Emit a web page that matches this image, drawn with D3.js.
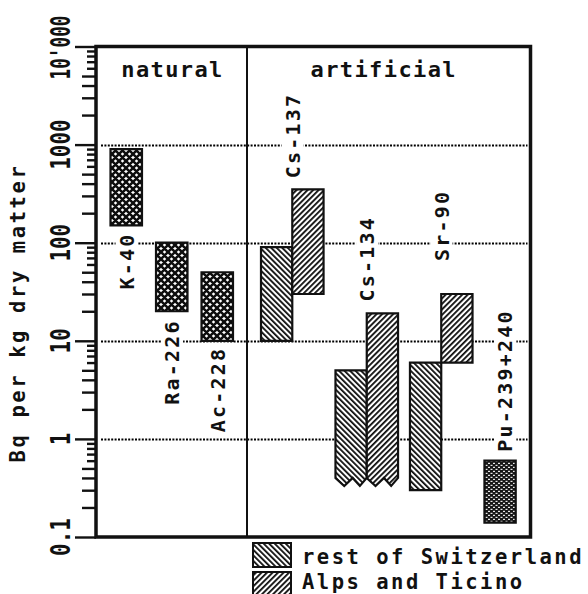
<!DOCTYPE html>
<html>
<head>
<meta charset="utf-8">
<script src="https://cdn.jsdelivr.net/npm/d3@7"></script>
<style>
  html, body { margin: 0; padding: 0; background: #fff; }
  svg { display: block; }
  text { font-family: "DejaVu Sans Mono", "Liberation Mono", monospace; font-weight: bold; fill: #111; }
</style>
</head>
<body>
<svg id="chart" width="588" height="594"></svg>
<script>
// Activity ranges in grass, Bq per kg dry matter (low, high)
const naturalNuclides = ["K-40", "Ra-226", "Ac-228"];
const naturalLow  = [150, 20, 10];
const naturalHigh = [900, 100, 50];

const artificialNuclides = ["Cs-137", "Cs-134", "Sr-90", "Pu-239+240"];
const restLow   = [10, 0.4, 0.3, null];
const restHigh  = [90, 5, 6, null];
const alpsLow   = [30, 0.4, 6, null];
const alpsHigh  = [350, 19, 30, null];
const wholeLow  = [null, null, null, 0.14];
const wholeHigh = [null, null, null, 0.6];
// lower limit only known as an upper bound: drawn open with a jagged bottom
const openBelow = [false, true, false, false];

const groupNames = ["natural", "artificial"];
const yTickValues = [0.1, 1, 10, 100, 1000, 10000];
const yTickLabels = ["0.1", "1", "10", "100", "1000", "10'000"];
const gridValues = [1, 10, 100, 1000];
const legendLabels = ["rest of Switzerland", "Alps and Ticino"];
const yTitle = "Bq per kg dry matter";

// ---- layout ----
const svg = d3.select("#chart");
const plot = { left: 96, right: 530.5, top: 46.5, bottom: 537, divider: 247 };

const y = d3.scaleLog().domain([0.1, 10000]).range([plot.bottom, plot.top]);
const xNat = d3.scaleBand().domain(naturalNuclides).range([110.5, 233]).paddingInner(0.308).paddingOuter(0);
const xArt = d3.scaleBand().domain(artificialNuclides).range([261, 547]).paddingInner(0.16).paddingOuter(0);
const subW = xArt.bandwidth() / 2;

// ---- fill patterns ----
const defs = svg.append("defs");
function stripes(id, angle) {
  const p = defs.append("pattern").attr("id", id).attr("patternUnits", "userSpaceOnUse")
    .attr("width", 3.9).attr("height", 3.9).attr("patternTransform", `rotate(${angle})`);
  p.append("rect").attr("width", 3.9).attr("height", 3.9).attr("fill", "#fff");
  p.append("rect").attr("x", 0).attr("width", 1.8).attr("height", 3.9).attr("fill", "#0d0d0d");
}
stripes("hatchRest", -45);   // \\\
stripes("hatchAlps", 45);    // ///

const cross = defs.append("pattern").attr("id", "crossNat").attr("patternUnits", "userSpaceOnUse")
  .attr("width", 7).attr("height", 7);
cross.append("rect").attr("width", 7).attr("height", 7).attr("fill", "#fff");
cross.append("path")
  .attr("d", "M-1,-1L8,8M8,-1L-1,8M-1,6L1,8M6,-1L8,1M-1,1L1,-1M6,8L8,6")
  .attr("stroke", "#0d0d0d").attr("stroke-width", 2.5).attr("fill", "none");

const fine = defs.append("pattern").attr("id", "finePu").attr("patternUnits", "userSpaceOnUse")
  .attr("width", 5).attr("height", 4);
fine.append("rect").attr("width", 5).attr("height", 4).attr("fill", "#161616");
fine.append("rect").attr("x", 0.5).attr("y", 0.8).attr("width", 2).attr("height", 1.1).attr("fill", "#fff");
fine.append("rect").attr("x", 3).attr("y", 2.8).attr("width", 2).attr("height", 1.1).attr("fill", "#fff");

// ---- grid lines ----
svg.append("g").selectAll("line").data(gridValues).join("line")
  .attr("x1", plot.left + 5).attr("x2", plot.right - 3)
  .attr("y1", d => Math.round(y(d)) + 0.5).attr("y2", d => Math.round(y(d)) + 0.5)
  .attr("stroke", "#000").attr("stroke-width", 1.8).attr("stroke-dasharray", "2,1.4");

// group divider
svg.append("line").attr("x1", plot.divider).attr("x2", plot.divider)
  .attr("y1", plot.top).attr("y2", plot.bottom).attr("stroke", "#111").attr("stroke-width", 2);

// ---- bars ----
function barPath(x0, w, yTop, yBot, jagged) {
  if (!jagged) return `M${x0},${yTop}H${x0 + w}V${yBot}H${x0}Z`;
  const d = 8;
  return `M${x0},${yTop}H${x0 + w}V${yBot}` +
    `L${x0 + w * 0.78},${yBot + d}L${x0 + w * 0.55},${yBot}` +
    `L${x0 + w * 0.28},${yBot + d}L${x0},${yBot}Z`;
}
const bars = svg.append("g").attr("stroke", "#111").attr("stroke-width", 2.2).attr("stroke-linejoin", "miter");

naturalNuclides.forEach((n, i) => {
  bars.append("path")
    .attr("d", barPath(xNat(n), xNat.bandwidth(), y(naturalHigh[i]), y(naturalLow[i]), false))
    .attr("fill", "url(#crossNat)");
});
artificialNuclides.forEach((n, i) => {
  const x0 = xArt(n);
  if (restHigh[i] != null) {
    bars.append("path")
      .attr("d", barPath(x0, subW, y(restHigh[i]), y(restLow[i]), openBelow[i]))
      .attr("fill", "url(#hatchRest)");
  }
  if (alpsHigh[i] != null) {
    bars.append("path")
      .attr("d", barPath(x0 + subW, subW, y(alpsHigh[i]), y(alpsLow[i]), openBelow[i]))
      .attr("fill", "url(#hatchAlps)");
  }
  if (wholeHigh[i] != null) {
    bars.append("path")
      .attr("d", barPath(x0, subW, y(wholeHigh[i]), y(wholeLow[i]), false))
      .attr("fill", "url(#finePu)");
  }
});

// ---- nuclide labels (vertical, beside each bar) ----
const labelLayout = {
  "K-40":       { side: "below", gap: 7 },
  "Ra-226":     { side: "below", gap: 8 },
  "Ac-228":     { side: "below", gap: 6 },
  "Cs-137":     { side: "above", gap: 11 },
  "Cs-134":     { side: "above", gap: 12 },
  "Sr-90":      { side: "above", gap: 33 },
  "Pu-239+240": { side: "above", gap: 9 }
};
const labelG = svg.append("g");
function nuclideLabel(name, xc, yLow, yHigh) {
  const L = labelLayout[name];
  const yPos = L.side === "below" ? yLow + L.gap : yHigh - L.gap;
  const g = labelG.append("g").attr("transform", `translate(${xc + 7.3},${yPos}) rotate(-90)`);
  const bg = g.append("rect").attr("fill", "#fff");
  const t = g.append("text")
    .attr("text-anchor", L.side === "below" ? "end" : "start")
    .attr("font-size", 20).attr("letter-spacing", 2.2)
    .text(name);
  const b = t.node().getBBox();
  bg.attr("x", b.x - 4).attr("y", b.y + 1).attr("width", b.width + 8).attr("height", b.height - 2);
}
naturalNuclides.forEach((n, i) => {
  nuclideLabel(n, xNat(n) + xNat.bandwidth() / 2, y(naturalLow[i]), y(naturalHigh[i]));
});
artificialNuclides.forEach((n, i) => {
  if (wholeHigh[i] != null) {
    nuclideLabel(n, xArt(n) + subW / 2 + 5, y(wholeLow[i]), y(wholeHigh[i]));
  } else {
    const hi = Math.max(restHigh[i], alpsHigh[i]);
    const lo = Math.min(restLow[i], alpsLow[i]);
    nuclideLabel(n, xArt(n) + subW, y(lo), y(hi));
  }
});

// ---- frame ----
svg.append("path")
  .attr("d", `M${plot.left},${plot.top}H${plot.right}V${plot.bottom}H${plot.left}Z`)
  .attr("fill", "none").attr("stroke", "#111").attr("stroke-width", 3.5);

// ---- y axis ticks ----
const mantissa = v => Math.round(v / Math.pow(10, Math.floor(Math.log10(v) + 1e-9)));
const minorValues = [];
[0.1, 1, 10, 100, 1000].forEach(d => { for (let k = 2; k <= 9; k++) minorValues.push(d * k); });
const axG = svg.append("g").attr("transform", `translate(${plot.left},0)`);
axG.append("g").call(d3.axisLeft(y).tickValues(yTickValues).tickSize(21).tickFormat(""));
axG.append("g").call(d3.axisLeft(y).tickValues(minorValues.filter(v => mantissa(v) <= 5)).tickSize(14).tickFormat(""));
axG.append("g").call(d3.axisLeft(y).tickValues(minorValues.filter(v => mantissa(v) > 5)).tickSize(9).tickFormat(""));
axG.selectAll(".domain").remove();
axG.selectAll(".tick line").attr("stroke", "#111").attr("stroke-width", 2.4);

// tick labels, vertical and condensed along the reading direction
yTickLabels.forEach((s, i) => {
  const len = s.replace("'", "").length * 12.6 + (s.includes("'") ? 1 : 0);
  const t = svg.append("text")
    .attr("text-anchor", "middle").attr("font-size", 27)
    .text(s);
  const natural = t.node().getComputedTextLength();
  const yc = y(yTickValues[i]) + (i === yTickLabels.length - 1 ? 1 : 0);
  t.attr("transform", `translate(70,${yc}) rotate(-90) scale(${len / natural},1)`);
});

// axis title
svg.append("text")
  .attr("transform", "translate(25,313) rotate(-90)")
  .attr("text-anchor", "middle").attr("font-size", 20.5).attr("letter-spacing", 2.6)
  .text(yTitle);

// ---- group headers ----
svg.append("text").attr("x", (plot.left + plot.divider) / 2 + 1).attr("y", 77)
  .attr("text-anchor", "middle").attr("font-size", 22).attr("letter-spacing", 1.4)
  .text(groupNames[0]);
svg.append("text").attr("x", (plot.divider + plot.right) / 2 - 5).attr("y", 77)
  .attr("text-anchor", "middle").attr("font-size", 22).attr("letter-spacing", 1.4)
  .text(groupNames[1]);

// ---- legend ----
const legendFills = ["url(#hatchRest)", "url(#hatchAlps)"];
const lg = svg.append("g");
legendLabels.forEach((s, i) => {
  const top = 543 + i * 29;
  lg.append("rect").attr("x", 253).attr("y", top).attr("width", 38).attr("height", 24)
    .attr("fill", legendFills[i]).attr("stroke", "#111").attr("stroke-width", 2);
  lg.append("text").attr("x", 302).attr("y", top + 21 - i * 4)
    .attr("font-size", 20.5).attr("letter-spacing", 2.5)
    .text(s);
});
</script>
</body>
</html>
